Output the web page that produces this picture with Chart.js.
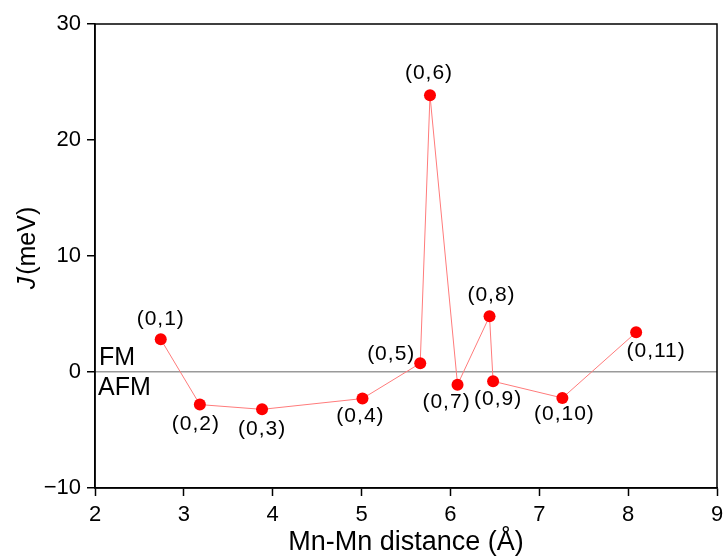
<!DOCTYPE html>
<html lang="en">
<head>
  <meta charset="UTF-8">
  <title>J vs Mn-Mn distance</title>
  <script src="https://cdn.jsdelivr.net/npm/chart.js"></script>
  <style>
    html, body { margin: 0; padding: 0; background: #fff; }
    #wrap { width: 723px; height: 559px; }
  </style>
</head>
<body>
  <div id="wrap"><canvas id="chart" width="723" height="559"></canvas></div>
  <script>
    // pair labels, distances (Å) and exchange J (meV)
    const pairs = ['(0,1)', '(0,2)', '(0,3)', '(0,4)', '(0,5)', '(0,6)', '(0,7)', '(0,8)', '(0,9)', '(0,10)', '(0,11)'];
    const distances = [2.74, 3.18, 3.88, 5.01, 5.66, 5.77, 6.08, 6.44, 6.48, 7.26, 8.09];
    const jValues = [2.82, -2.81, -3.22, -2.29, 0.75, 23.85, -1.09, 4.80, -0.80, -2.24, 3.42];
    const xTicks = [2, 3, 4, 5, 6, 7, 8, 9];
    const yTicks = [-10, 0, 10, 20, 30];

    // where each label sits relative to its point (px)
    const labelOffsets = [[0, -20], [-4, 20], [0, 20], [-2, 18], [-29, -9], [-1, -22], [-11, 18], [2, -21], [5, 18], [2, 16], [20, 19]];

    const font = "Arial, 'Liberation Sans', sans-serif";

    const extras = {
      id: 'extras',
      afterDatasetsDraw(chart) {
        const { ctx, chartArea: a, scales } = chart;
        ctx.save();
        // frame
        ctx.strokeStyle = '#000';
        ctx.lineWidth = 1.5;
        ctx.strokeRect(a.left, a.top, a.right - a.left, a.bottom - a.top);

        // point labels
        ctx.fillStyle = '#000';
        ctx.font = '21px ' + font;
        ctx.letterSpacing = '1px';
        ctx.textAlign = 'center';
        ctx.textBaseline = 'middle';
        const meta = chart.getDatasetMeta(0);
        meta.data.forEach((pt, i) => {
          ctx.fillText(pairs[i], pt.x + labelOffsets[i][0], pt.y + labelOffsets[i][1]);
        });
        ctx.letterSpacing = '0px';

        // FM / AFM
        const y0 = scales.y.getPixelForValue(0);
        ctx.font = '25px ' + font;
        ctx.textAlign = 'left';
        ctx.fillText('FM', a.left + 4, y0 - 14);
        ctx.fillText('AFM', a.left + 3, y0 + 16);

        // y title with italic J
        ctx.translate(28, 248);
        ctx.rotate(-Math.PI / 2);
        ctx.font = 'italic 25px ' + font;
        const jw = ctx.measureText('J').width + 2;
        ctx.font = '25px ' + font;
        const rest = '(meV)';
        const rw = ctx.measureText(rest).width;
        const start = -(jw + rw) / 2;
        ctx.font = 'italic 25px ' + font;
        ctx.fillText('J', start, 0);
        ctx.font = '25px ' + font;
        ctx.fillText(rest, start + jw, 0);
        ctx.restore();
      }
    };

    new Chart(document.getElementById('chart'), {
      type: 'scatter',
      data: {
        datasets: [{
          data: distances.map((d, i) => ({ x: d, y: jValues[i] })),
          showLine: true,
          borderColor: '#ff7b7b',
          borderWidth: 1,
          pointRadius: 6,
          pointHoverRadius: 6,
          pointBackgroundColor: '#ff0000',
          pointBorderWidth: 0
        }]
      },
      options: {
        responsive: false,
        animation: false,
        layout: { padding: { top: 24, right: 5, left: 0, bottom: 0 } },
        plugins: { legend: { display: false }, tooltip: { enabled: false } },
        scales: {
          x: {
            type: 'linear',
            min: xTicks[0],
            max: xTicks[xTicks.length - 1],
            afterBuildTicks: s => { s.ticks = xTicks.map(v => ({ value: v })); },
            afterFit: s => { s.height = 71; s.paddingLeft = 0; s.paddingRight = 0; },
            border: { color: '#000', width: 1.5 },
            grid: { drawOnChartArea: false, tickLength: 8, tickColor: '#000', tickWidth: 1.5 },
            ticks: { color: '#000', font: { family: font, size: 22 }, padding: 6, maxRotation: 0 },
            title: { display: true, text: 'Mn-Mn distance (Å)', color: '#000', font: { family: font, size: 27 }, padding: { top: 2, bottom: 0 } }
          },
          y: {
            type: 'linear',
            min: yTicks[0],
            max: yTicks[yTicks.length - 1],
            afterBuildTicks: s => { s.ticks = yTicks.map(v => ({ value: v })); },
            afterFit: s => { s.width = 95; s.paddingTop = 0; s.paddingBottom = 0; },
            border: { color: '#000', width: 1.5 },
            grid: {
              color: c => (c.tick && c.tick.value === 0) ? '#9a9a9a' : 'rgba(0,0,0,0)',
              lineWidth: 1.5,
              tickLength: 8,
              tickColor: '#000',
              tickWidth: 1.5
            },
            ticks: {
              color: '#000',
              font: { family: font, size: 22 },
              padding: 6,
              callback: v => String(v).replace('-', '\u2212')
            }
          }
        }
      },
      plugins: [extras]
    });
  </script>
</body>
</html>
